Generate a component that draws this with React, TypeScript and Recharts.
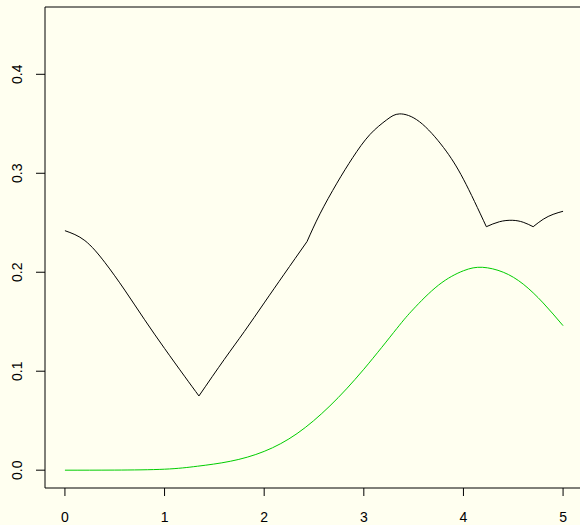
import React from 'react';
import { LineChart, Line, XAxis, YAxis, ReferenceArea } from 'recharts';

// black curve, split at its kinks so each piece stays smooth
const blackFall = [[0, 0.242], [0.2, 0.232], [0.4, 0.21], [0.6, 0.182], [0.8, 0.152], [1.0, 0.123], [1.2, 0.095], [1.345, 0.075]];
const blackRise = [[1.345, 0.075], [1.6, 0.112], [1.8, 0.14], [2.0, 0.169], [2.2, 0.198], [2.43, 0.231]];
const blackPeak = [[2.43, 0.231], [2.56, 0.259], [2.73, 0.29], [2.89, 0.316], [3.06, 0.339], [3.23, 0.354], [3.36, 0.36], [3.56, 0.352], [3.8, 0.326], [4.0, 0.294], [4.23, 0.246]];
const blackBump = [[4.23, 0.246], [4.36, 0.251], [4.49, 0.2525], [4.6, 0.2505], [4.7, 0.246]];
const blackTail = [[4.7, 0.246], [4.8, 0.2535], [4.9, 0.2585], [5.0, 0.2616]];

const greenCurve = [[0, 0], [0.5, 0.0001], [1.0, 0.001], [1.33, 0.004], [1.66, 0.009], [2.0, 0.019], [2.33, 0.037], [2.66, 0.065], [3.0, 0.102], [3.33, 0.143], [3.5, 0.163], [3.75, 0.187], [4.0, 0.2015], [4.19, 0.205], [4.4, 0.2], [4.6, 0.188], [4.8, 0.169], [5.0, 0.146]];

const xTicks = [0, 1, 2, 3, 4, 5];
const yTicks = [0, 0.1, 0.2, 0.3, 0.4];

const toRows = (pts: number[][]) => pts.map(([x, y]) => ({ x, y }));

const FONT = '"Liberation Sans", Arial, sans-serif';

const YTick = (props: any) => {
  const { y, payload } = props;
  return (
    <text x={22} y={y} transform={`rotate(-90, 22, ${y})`} textAnchor="middle" fontSize={14} fontFamily={FONT} fill="#000">
      {payload.value.toFixed(1)}
    </text>
  );
};

const segments = [blackFall, blackRise, blackPeak, blackBump, blackTail];

export default function App() {
  return (
    <div style={{ width: 580, height: 525, overflow: 'hidden', background: '#fffff0' }}>
      <style>{'body{margin:0;background:#fffff0}'}</style>
      <LineChart width={583} height={525} margin={{ top: 7, right: 0, left: 0, bottom: 0 }}>
        <XAxis
          type="number"
          dataKey="x"
          domain={[-0.2, 5.2]}
          ticks={xTicks}
          axisLine={false}
          tickLine={{ stroke: '#000' }}
          tickSize={8}
          tickMargin={16}
          height={37}
          allowDataOverflow
          tick={{ fontSize: 14, fontFamily: FONT, fill: '#000' }}
        />
        <YAxis
          type="number"
          dataKey="y"
          domain={[-0.018, 0.468]}
          ticks={yTicks}
          axisLine={false}
          tickLine={{ stroke: '#000' }}
          tickSize={9}
          width={45}
          allowDataOverflow
          tick={<YTick />}
        />
        <ReferenceArea x1={-0.2} x2={5.2} y1={-0.018} y2={0.468} fill="none" stroke="#000" strokeWidth={1} />
        {segments.map((seg, i) => (
          <Line key={i} data={toRows(seg)} dataKey="y" type="natural" stroke="#000" strokeWidth={1} dot={false} isAnimationActive={false} />
        ))}
        <Line data={toRows(greenCurve)} dataKey="y" type="natural" stroke="#00cd00" strokeWidth={1} dot={false} isAnimationActive={false} />
      </LineChart>
    </div>
  );
}
